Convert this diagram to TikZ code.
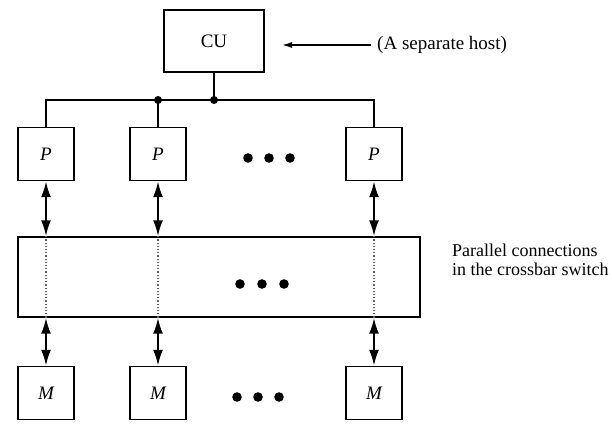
\documentclass[tikz,border=0pt]{standalone}
\usepackage{fontspec}
\setmainfont{Liberation Serif}
\usetikzlibrary{arrows.meta}

\tikzset{
  unitbox/.style={draw, line width=1.4pt, inner sep=0pt, minimum width=56pt, minimum height=53pt, font=\fontsize{19}{22}\selectfont\itshape},
  biarrow/.style={line width=2.2pt, {Latex[length=16pt,width=10pt]}-{Latex[length=16pt,width=10pt]}},
  busline/.style={line width=1.6pt},
  crossline/.style={dotted, line width=1.2pt, black!60},
}

\begin{document}
\begin{tikzpicture}[x=1pt, y=-1pt, font=\fontsize{19}{22}\selectfont]
  \useasboundingbox (0,0) rectangle (612,427);
  %% 1. Control unit and host
  \node[draw, line width=1.4pt, minimum width=100pt, minimum height=62pt] (cu) at (214,41) {CU};
  \node[anchor=west, inner sep=0pt] (host) at (377,45) {(A separate host)};
  \coordinate (hostend) at (282,45);
  \draw[line width=1.3pt, -{Latex[length=10pt,width=6pt]}] ([xshift=-6pt]host.west) -- (hostend);
  %% 2. Processors
  \node[unitbox] (p1) at (46,154) {P};
  \node[unitbox] (p2) at (158,154) {P};
  \node[unitbox] (p3) at (374,154) {P};
  \coordinate (busL) at (46,100);
  \coordinate (busR) at (374,100);
  \draw[busline] (p1.north) -- (busL) -- (busR) -- (p3.north);
  \draw[busline] (p2.north) -- (p2.north |- busL);
  \draw[busline] (cu.south) -- (cu.south |- busL);
  \fill (p2.north |- busL) circle (4pt);
  \fill (cu.south |- busL) circle (4pt);
  \foreach \x in {248,269,290} \fill (\x,158) circle (4.8pt);
  %% 3. Crossbar switch
  \node[draw, line width=1.4pt, minimum width=402pt, minimum height=80pt] (xbar) at (219,277) {};
  \foreach \x in {240,262,284} \fill (\x,284) circle (4.8pt);
  \node[anchor=north west, align=left, inner sep=0pt, font=\fontsize{18}{19}\selectfont] (note) at (452,244) {Parallel connections\\in the crossbar switch};
  %% 4. Memories
  \node[unitbox] (m1) at (46,393) {M};
  \node[unitbox] (m2) at (158,393) {M};
  \node[unitbox] (m3) at (374,393) {M};
  \foreach \x in {237,258,279} \fill (\x,397) circle (4.8pt);
  %% 5. Parallel connections
  \foreach \i in {1,2,3} {
    \draw[biarrow] (p\i.south) -- (p\i.south |- xbar.north);
    \draw[crossline] (p\i.south |- xbar.north) -- (p\i.south |- xbar.south);
    \draw[biarrow] (m\i.north |- xbar.south) -- (m\i.north);
  }
\end{tikzpicture}
\end{document}
